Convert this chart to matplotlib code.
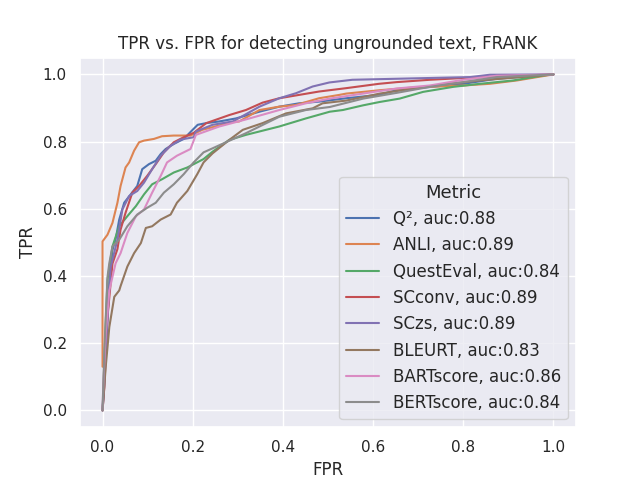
import matplotlib
matplotlib.use("Agg")
import matplotlib.pyplot as plt
import seaborn as sns

sns.set_theme()

# ROC points (fpr, tpr)
q2_fpr = [0, 0.007, 0.015, 0.022, 0.03, 0.037, 0.048, 0.0625, 0.077, 0.088, 0.103, 0.118, 0.129, 0.14, 0.158, 0.18, 0.202, 0.211, 0.23, 0.259, 0.296, 0.348, 0.392, 0.436, 0.48, 0.54, 0.613, 0.652, 0.8, 0.874, 1.0]
q2_tpr = [0, 0.179, 0.377, 0.477, 0.516, 0.568, 0.618, 0.643, 0.668, 0.718, 0.733, 0.743, 0.763, 0.778, 0.793, 0.808, 0.838, 0.85, 0.855, 0.86, 0.869, 0.889, 0.904, 0.914, 0.919, 0.929, 0.939, 0.953, 0.972, 0.987, 1.0]

anli_fpr = [0, 0, 0, 0.011, 0.022, 0.033, 0.04, 0.051, 0.059, 0.07, 0.081, 0.092, 0.114, 0.132, 0.158, 0.195, 0.221, 0.288, 0.303, 0.348, 0.392, 0.429, 0.48, 0.525, 0.541, 0.615, 0.689, 0.8, 0.859, 0.919, 1.0]
anli_tpr = [0.13, 0.169, 0.503, 0.523, 0.558, 0.618, 0.668, 0.723, 0.738, 0.773, 0.798, 0.803, 0.808, 0.816, 0.818, 0.818, 0.835, 0.858, 0.86, 0.894, 0.904, 0.909, 0.929, 0.939, 0.943, 0.953, 0.961, 0.967, 0.972, 0.982, 1.0]

questeval_fpr = [0, 0.001, 0.007, 0.011, 0.022, 0.037, 0.055, 0.074, 0.092, 0.11, 0.132, 0.158, 0.188, 0.224, 0.244, 0.281, 0.318, 0.392, 0.451, 0.504, 0.533, 0.578, 0.615, 0.659, 0.711, 0.778, 0.837, 0.911, 0.978, 1.0]
questeval_tpr = [0, 0.03, 0.258, 0.388, 0.488, 0.548, 0.578, 0.608, 0.643, 0.673, 0.688, 0.708, 0.723, 0.748, 0.77, 0.805, 0.82, 0.845, 0.869, 0.889, 0.894, 0.908, 0.918, 0.928, 0.948, 0.963, 0.972, 0.982, 0.997, 1.0]

scconv_fpr = [0, 0.004, 0.011, 0.022, 0.033, 0.04, 0.051, 0.066, 0.081, 0.099, 0.118, 0.136, 0.158, 0.18, 0.202, 0.23, 0.281, 0.318, 0.355, 0.392, 0.436, 0.48, 0.54, 0.613, 0.652, 0.726, 0.837, 1.0]
scconv_tpr = [0, 0.07, 0.278, 0.437, 0.48, 0.538, 0.588, 0.648, 0.668, 0.698, 0.733, 0.768, 0.798, 0.813, 0.826, 0.855, 0.879, 0.894, 0.916, 0.929, 0.939, 0.949, 0.959, 0.972, 0.977, 0.984, 0.992, 1.0]

sczs_fpr = [0, 0.004, 0.011, 0.018, 0.033, 0.044, 0.059, 0.077, 0.092, 0.11, 0.129, 0.151, 0.173, 0.202, 0.207, 0.244, 0.289, 0.348, 0.392, 0.429, 0.466, 0.503, 0.554, 0.652, 0.748, 0.815, 0.859, 1.0]
sczs_tpr = [0, 0.08, 0.278, 0.427, 0.508, 0.598, 0.638, 0.653, 0.678, 0.718, 0.758, 0.788, 0.806, 0.813, 0.83, 0.85, 0.86, 0.904, 0.929, 0.944, 0.964, 0.976, 0.984, 0.987, 0.99, 0.992, 0.999, 1.0]

bleurt_fpr = [0, 0.007, 0.015, 0.026, 0.037, 0.04, 0.055, 0.07, 0.085, 0.096, 0.11, 0.129, 0.151, 0.165, 0.188, 0.21, 0.224, 0.244, 0.281, 0.311, 0.355, 0.407, 0.466, 0.488, 0.54, 0.615, 0.726, 0.837, 1.0]
bleurt_tpr = [0, 0.129, 0.248, 0.338, 0.357, 0.37, 0.428, 0.468, 0.498, 0.543, 0.548, 0.568, 0.583, 0.618, 0.653, 0.703, 0.738, 0.765, 0.805, 0.835, 0.855, 0.884, 0.899, 0.914, 0.922, 0.943, 0.965, 0.982, 1.0]

bartscore_fpr = [0, 0.0015, 0.007, 0.015, 0.029, 0.04, 0.055, 0.074, 0.092, 0.11, 0.129, 0.143, 0.165, 0.195, 0.207, 0.259, 0.318, 0.392, 0.451, 0.504, 0.578, 0.652, 0.726, 0.8, 0.874, 1.0]
bartscore_tpr = [0, 0.07, 0.228, 0.357, 0.438, 0.468, 0.528, 0.578, 0.598, 0.648, 0.698, 0.738, 0.758, 0.778, 0.82, 0.845, 0.866, 0.894, 0.914, 0.928, 0.943, 0.958, 0.967, 0.984, 0.996, 1.0]

bertscore_fpr = [0, 0.004, 0.011, 0.015, 0.022, 0.037, 0.055, 0.077, 0.099, 0.118, 0.136, 0.158, 0.18, 0.202, 0.224, 0.244, 0.318, 0.392, 0.451, 0.504, 0.578, 0.652, 0.726, 0.8, 0.874, 1.0]
bertscore_tpr = [0, 0.179, 0.397, 0.438, 0.488, 0.508, 0.548, 0.583, 0.603, 0.618, 0.648, 0.673, 0.703, 0.738, 0.768, 0.78, 0.825, 0.874, 0.894, 0.903, 0.928, 0.945, 0.963, 0.977, 0.992, 1.0]

names = ["Q²", "ANLI", "QuestEval", "SCconv", "SCzs", "BLEURT", "BARTscore", "BERTscore"]
aucs = [0.88, 0.89, 0.84, 0.89, 0.89, 0.83, 0.86, 0.84]
curves = [(q2_fpr, q2_tpr), (anli_fpr, anli_tpr), (questeval_fpr, questeval_tpr),
          (scconv_fpr, scconv_tpr), (sczs_fpr, sczs_tpr), (bleurt_fpr, bleurt_tpr),
          (bartscore_fpr, bartscore_tpr), (bertscore_fpr, bertscore_tpr)]

fig, ax = plt.subplots(figsize=(6.4, 4.8), dpi=100)
colors = sns.color_palette("deep")
for i, (name, auc, (fpr, tpr)) in enumerate(zip(names, aucs, curves)):
    ax.plot(fpr, tpr, color=colors[i], linewidth=1.5, label=f"{name}, auc:{auc}")

ax.set_xlabel("FPR")
ax.set_ylabel("TPR")
ax.set_title("TPR vs. FPR for detecting ungrounded text, FRANK")
ax.legend(title="Metric", loc="lower right", fontsize=12, title_fontsize=13)
fig.savefig("out.png", dpi=100)
